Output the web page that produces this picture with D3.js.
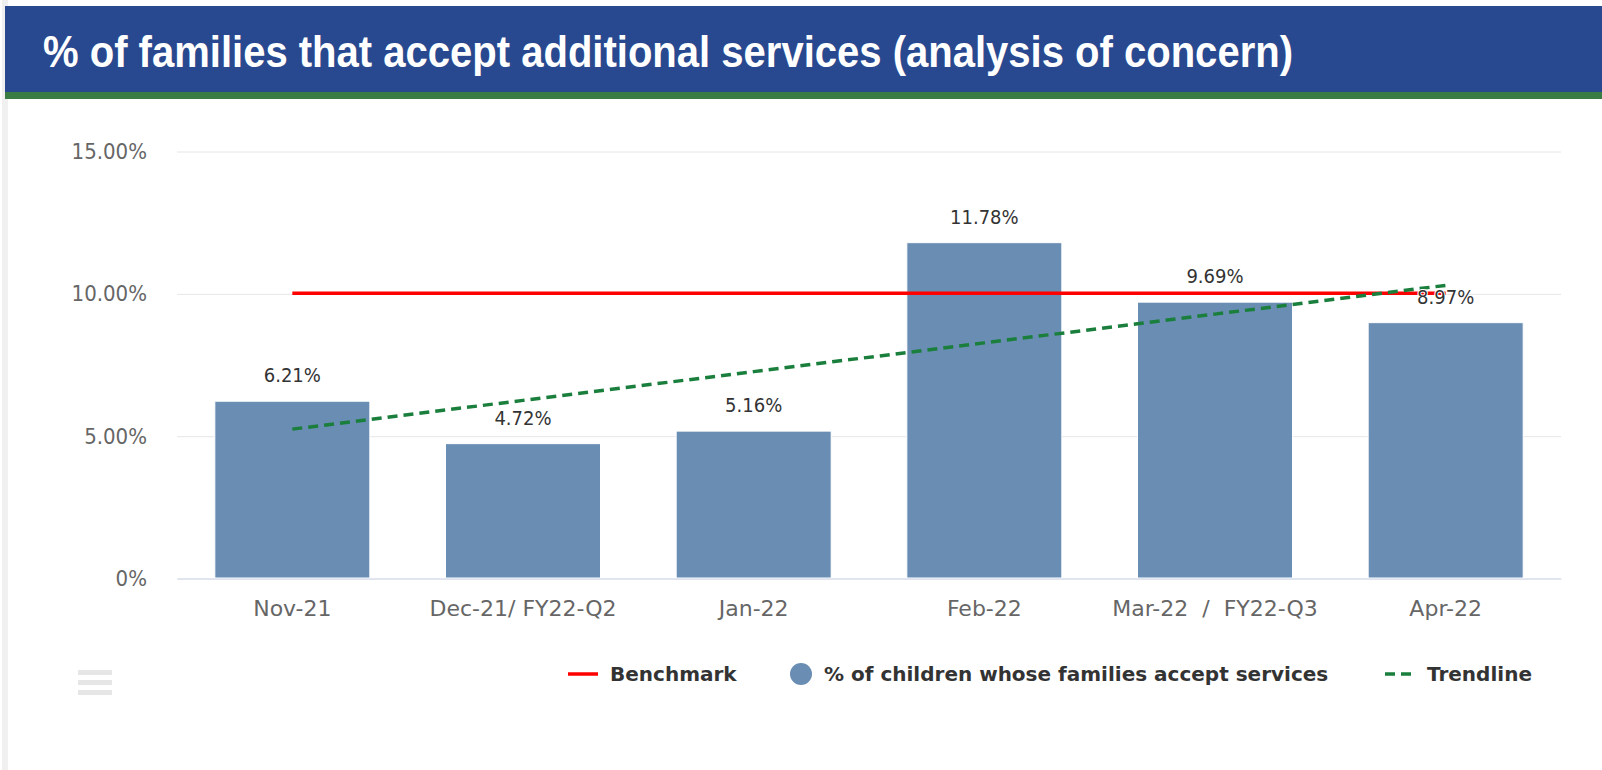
<!DOCTYPE html>
<html><head><meta charset="utf-8">
<script src="https://cdn.jsdelivr.net/npm/d3@7"></script>
<style>
html,body{margin:0;padding:0;background:#fff;}
svg{display:block;}
</style></head>
<body>
<script>
const title = "% of families that accept additional services (analysis of concern)";
const categories = ["Nov-21", "Dec-21/ FY22-Q2", "Jan-22", "Feb-22", "Mar-22  /  FY22-Q3", "Apr-22"];
const acceptValues = [6.21, 4.72, 5.16, 11.78, 9.69, 8.97];
const benchmarkValues = [10, 10, 10, 10, 10, 10];
const trendValues = [5.23, 6.24, 7.25, 8.26, 9.27, 10.28];
const yTicks = [0, 5, 10, 15];
const yTickLabels = ["0%", "5.00%", "10.00%", "15.00%"];
const legendNames = ["Benchmark", "% of children whose families accept services", "Trendline"];

const W = 1602, H = 770;
const svg = d3.select("body").append("svg").attr("width", W).attr("height", H);

// frame
svg.append("rect").attr("x", 2).attr("y", 0).attr("width", 6).attr("height", H).attr("fill", "#f0f0f0");
svg.append("rect").attr("x", 5).attr("y", 6).attr("width", W - 5).attr("height", 86).attr("fill", "#28498f");
svg.append("rect").attr("x", 5).attr("y", 92).attr("width", W - 5).attr("height", 7).attr("fill", "#3a7d44");
svg.append("text").attr("x", 43).attr("y", 67)
  .attr("font-family", "Liberation Sans, Arial, sans-serif").attr("font-weight", "bold")
  .attr("font-size", 45).attr("fill", "#fff")
  .attr("textLength", 1250).attr("lengthAdjust", "spacingAndGlyphs")
  .text(title);

const x = d3.scaleBand().domain(categories).range([177, 1561]).paddingInner(0.328).paddingOuter(0.164);
const y = d3.scaleLinear().domain([0, 15]).range([578, 151]);

// grid
const yAxis = d3.axisLeft(y).tickValues(yTicks).tickSize(-(1561 - 177)).tickFormat((d, i) => yTickLabels[i]);
const gy = svg.append("g").attr("transform", "translate(177,0.5)").call(yAxis);
gy.select(".domain").remove();
gy.selectAll(".tick line").attr("stroke", "#e6e6e6");
gy.selectAll(".tick text").attr("x", -30).attr("fill", "#666")
  .attr("font-family", "DejaVu Sans Condensed, DejaVu Sans, sans-serif").attr("font-size", 22);

// bars
svg.append("g").selectAll("rect").data(acceptValues).join("rect")
  .attr("x", (d, i) => x(categories[i]))
  .attr("y", d => y(d))
  .attr("width", x.bandwidth())
  .attr("height", d => y(0) - y(d))
  .attr("fill", "#6a8db3").attr("stroke", "#fff").attr("stroke-width", 1);

// x axis
const xAxis = d3.axisBottom(x).tickSize(0).tickPadding(22);
const gx = svg.append("g").attr("transform", "translate(0,578.5)").call(xAxis);
gx.select(".domain").attr("stroke", "#ccd6eb");
gx.selectAll(".tick text").attr("fill", "#666").style("white-space", "pre")
  .attr("font-family", "DejaVu Sans, sans-serif").attr("font-size", 22);

const cx = c => x(c) + x.bandwidth() / 2;

// benchmark
svg.append("path").datum(benchmarkValues)
  .attr("d", d3.line().x((d, i) => cx(categories[i])).y(d => y(d)))
  .attr("fill", "none").attr("stroke", "#ff0000").attr("stroke-width", 3.5);

// trendline
svg.append("path").datum(trendValues)
  .attr("d", d3.line().x((d, i) => cx(categories[i])).y(d => y(d)))
  .attr("fill", "none").attr("stroke", "#1a7f3c").attr("stroke-width", 3.5).attr("stroke-dasharray", "10,6");

// data labels
svg.append("g").selectAll("text").data(acceptValues).join("text")
  .attr("x", (d, i) => cx(categories[i]))
  .attr("y", d => y(d) - 19)
  .attr("text-anchor", "middle")
  .attr("font-family", "DejaVu Sans Condensed, DejaVu Sans, sans-serif").attr("font-size", 20)
  .attr("fill", "#333").attr("stroke", "#fff").attr("stroke-width", 2).attr("paint-order", "stroke")
  .text(d => d.toFixed(2) + "%");

// legend
const lg = svg.append("g").attr("font-family", "DejaVu Sans, sans-serif").attr("font-weight", "bold")
  .attr("font-size", 20).attr("fill", "#333");
const ly = 674;
lg.append("line").attr("x1", 568).attr("x2", 598).attr("y1", ly).attr("y2", ly).attr("stroke", "#ff0000").attr("stroke-width", 3.5);
lg.append("text").attr("x", 610).attr("y", ly + 7).text(legendNames[0]);
lg.append("circle").attr("cx", 801).attr("cy", ly).attr("r", 11).attr("fill", "#6a8db3");
lg.append("text").attr("x", 824).attr("y", ly + 7).text(legendNames[1]);
lg.append("line").attr("x1", 1385).attr("x2", 1415).attr("y1", ly).attr("y2", ly).attr("stroke", "#1a7f3c").attr("stroke-width", 3.5).attr("stroke-dasharray", "10,6");
lg.append("text").attr("x", 1427).attr("y", ly + 7).text(legendNames[2]);

// menu icon
svg.append("g").selectAll("rect").data([0, 1, 2]).join("rect")
  .attr("x", 78).attr("y", d => 670 + d * 10).attr("width", 34).attr("height", 5).attr("fill", "#e6e6e6");
</script>
</body></html>
